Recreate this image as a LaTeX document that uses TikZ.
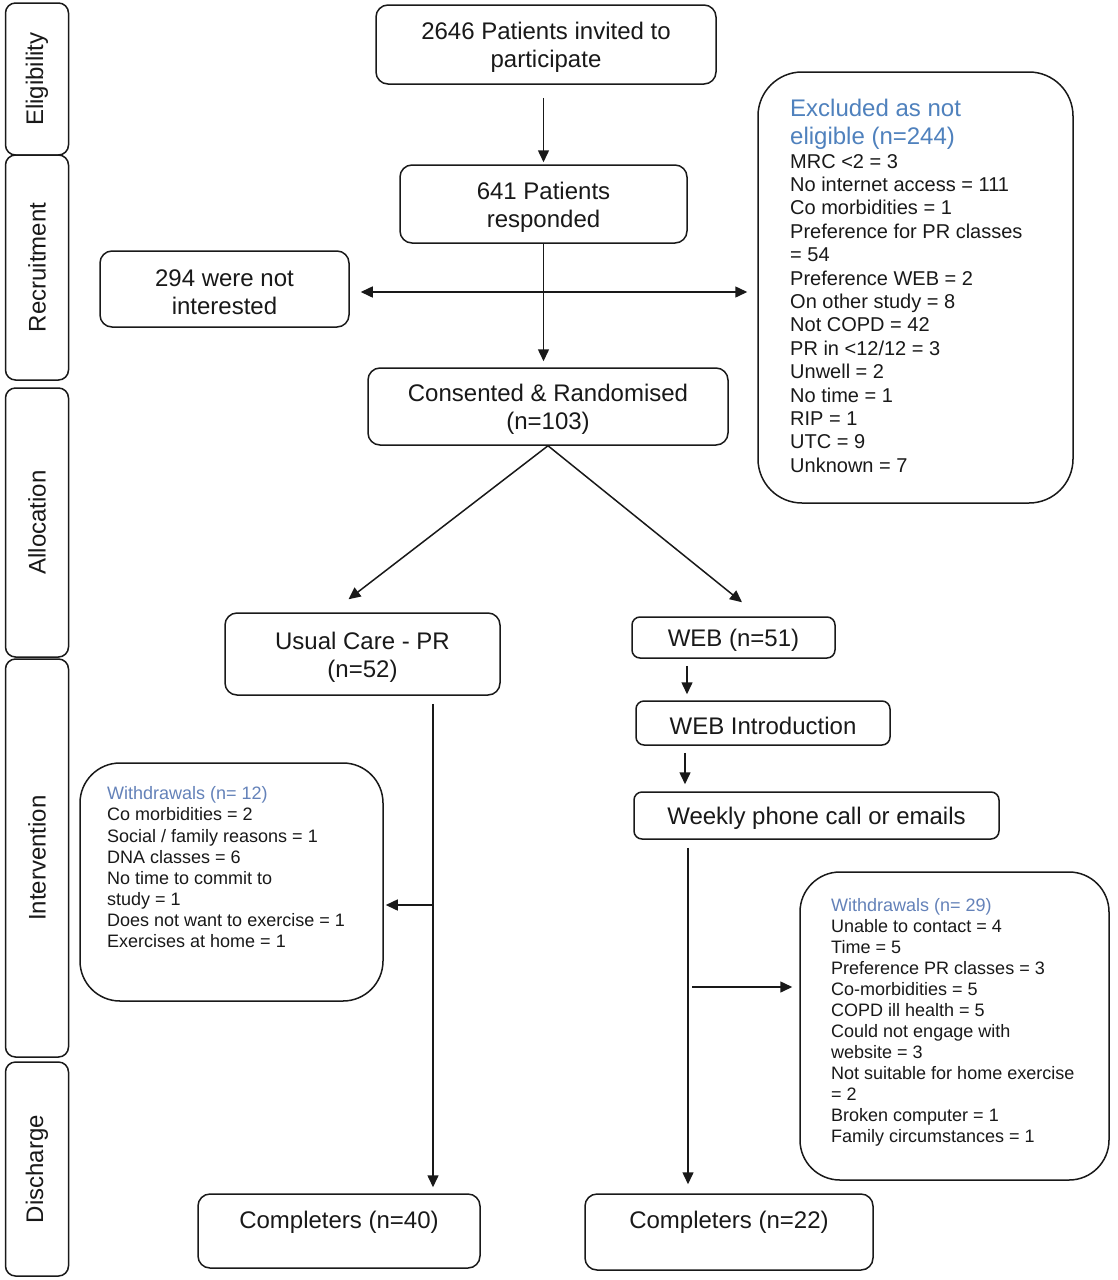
\documentclass[tikz,border=0pt]{standalone}
\usepackage{fontspec}
\setmainfont{Liberation Sans}
\usetikzlibrary{arrows.meta,calc}
\definecolor{hdblue}{RGB}{79,129,189}
\definecolor{wdblue}{RGB}{100,130,185}
\definecolor{ink}{RGB}{25,25,25}
\newcommand{\upstrut}{\rule{0pt}{23.5pt}}
\begin{document}
\begin{tikzpicture}[x=1pt,y=-1pt,
  box/.style={draw=ink, line width=1.5pt, rounded corners=12pt, inner sep=0pt, align=center,
    font=\fontsize{24}{28}\selectfont, text=ink},
  phase/.style={draw=ink, line width=1.5pt, rounded corners=10pt, rotate=90, inner sep=0pt,
    font=\fontsize{24}{28}\selectfont, text=ink},
  bigbox/.style={draw=ink, line width=1.5pt, inner sep=0pt},
  txt/.style={anchor=north west, inner sep=0pt, align=left, text=ink},
  arr/.style={draw=ink, line width=1.5pt, -{Triangle[length=12pt,width=11pt]}},
  dblarr/.style={draw=ink, line width=1.5pt, {Triangle[length=12pt,width=11pt]}-{Triangle[length=12pt,width=11pt]}},
]
\useasboundingbox (0,0) rectangle (1118,1280);
\fill[white] (0,0) rectangle (1118,1280);

% phase column
\node[phase, minimum width=152pt, minimum height=63pt] (ph1) at (37,79) {Eligibility};
\node[phase, minimum width=225pt, minimum height=63pt] (ph2) at (37,267.5) {Recruitment};
\node[phase, minimum width=269pt, minimum height=63pt] (ph3) at (37,522.5) {Allocation};
\node[phase, minimum width=398pt, minimum height=63pt] (ph4) at (37,858) {Intervention};
\node[phase, minimum width=214pt, minimum height=63pt] (ph5) at (37,1169) {Discharge};

% main flow
\node[box, minimum width=340pt, minimum height=79pt] (n1) at (546,44.5) {\upstrut 2646 Patients invited to\\participate};
\node[box, minimum width=287pt, minimum height=78pt] (n2) at (543.5,204) {\upstrut 641 Patients\\responded};
\node[box, minimum width=249pt, minimum height=76pt] (n3) at (224.5,289) {\upstrut 294 were not\\interested};
\node[box, minimum width=360pt, minimum height=77pt] (n4) at (548,406.5) {\upstrut Consented \& Randomised\\(n=103)};

% excluded box
\node[bigbox, rounded corners=44pt, minimum width=315pt, minimum height=431pt] (ex) at (915.5,287.5) {};
\node[txt, text=hdblue, font=\fontsize{24}{28}\selectfont] (exh) at (790,99) {Excluded as not\\eligible (n=244)};
\node[txt, font=\fontsize{20}{23.4}\selectfont] (exb) at (790,154) {MRC <2 = 3\\No internet access = 111\\Co morbidities = 1\\Preference for PR classes\\= 54\\Preference WEB = 2\\On other study = 8\\Not COPD = 42\\PR in <12/12 = 3\\Unwell = 2\\No time = 1\\RIP = 1\\UTC = 9\\Unknown = 7};

% arms
\node[box, minimum width=275pt, minimum height=82pt] (uc) at (362.5,654) {\upstrut Usual Care - PR\\(n=52)};
\node[box, rounded corners=8pt, minimum width=203pt, minimum height=41pt] (web) at (733.5,637.5) {\upstrut WEB (n=51)};
\node[box, rounded corners=8pt, minimum width=254pt, minimum height=44pt] (wi) at (763,723) {\upstrut WEB Introduction};
\node[box, rounded corners=8pt, minimum width=365pt, minimum height=47pt] (wk) at (816.5,815.5) {\upstrut Weekly phone call or emails};

% withdrawals
\node[bigbox, rounded corners=40pt, minimum width=303pt, minimum height=238pt] (wl) at (231.5,882) {};
\node[txt, font=\fontsize{18}{21.14}\selectfont] (wlt) at (107,786.5) {\textcolor{wdblue}{Withdrawals (n= 12)}\\Co morbidities = 2\\Social / family reasons = 1\\DNA classes = 6\\No time to commit to\\study = 1\\Does not want to exercise = 1\\Exercises at home = 1};

\node[bigbox, rounded corners=40pt, minimum width=309pt, minimum height=308pt] (wr) at (954.5,1026) {};
\node[txt, font=\fontsize{18}{21}\selectfont] (wrt) at (831,898.5) {\textcolor{wdblue}{Withdrawals (n= 29)}\\Unable to contact = 4\\Time = 5\\Preference PR classes = 3\\Co-morbidities = 5\\COPD ill health = 5\\Could not engage with\\website = 3\\Not suitable for home exercise\\= 2\\Broken computer = 1\\Family circumstances = 1};

% completers
\node[box, minimum width=282pt, minimum height=74pt, text depth=29pt] (c1) at (339,1231) {\upstrut Completers (n=40)};
\node[box, minimum width=288pt, minimum height=76pt, text depth=31pt] (c2) at (729,1232) {\upstrut Completers (n=22)};

% connectors
\draw[arr, shorten <=13pt, shorten >=2pt] (n1.south -| n2.north) -- (n2.north);
\coordinate (j) at (544.5,292);
\draw[arr, shorten >=6pt] (n2.south) -- (n2.south |- n4.north);
\draw[dblarr, shorten <=11pt, shorten >=10pt] (n3.east |- j) -- (ex.west |- j);

\draw[arr] (n4.south) -- ($(uc.north)+(-14,-13)$);
\draw[arr] (n4.south) -- ($(web.north)+(8.5,-14)$);

\coordinate (lx) at (433,0);
\draw[arr, shorten <=8pt, shorten >=6pt] (lx |- uc.south) -- (lx |- c1.north);
\coordinate (lj) at (433,905);
\draw[arr, shorten >=2pt] (lj) -- (lj -| wl.east);

\coordinate (rx1) at (687,0);
\draw[arr, shorten <=7pt, shorten >=6pt] (rx1 |- web.south) -- (rx1 |- wi.north);
\coordinate (rx2) at (685,0);
\draw[arr, shorten <=7pt, shorten >=7pt] (rx2 |- wi.south) -- (rx2 |- wk.north);
\coordinate (rx3) at (688,0);
\draw[arr, shorten <=8pt, shorten >=9pt] (rx3 |- wk.south) -- (rx3 |- c2.north);
\coordinate (rj) at (692,987);
\draw[arr, shorten >=7pt] (rj) -- (rj -| wr.west);
\end{tikzpicture}
\end{document}
